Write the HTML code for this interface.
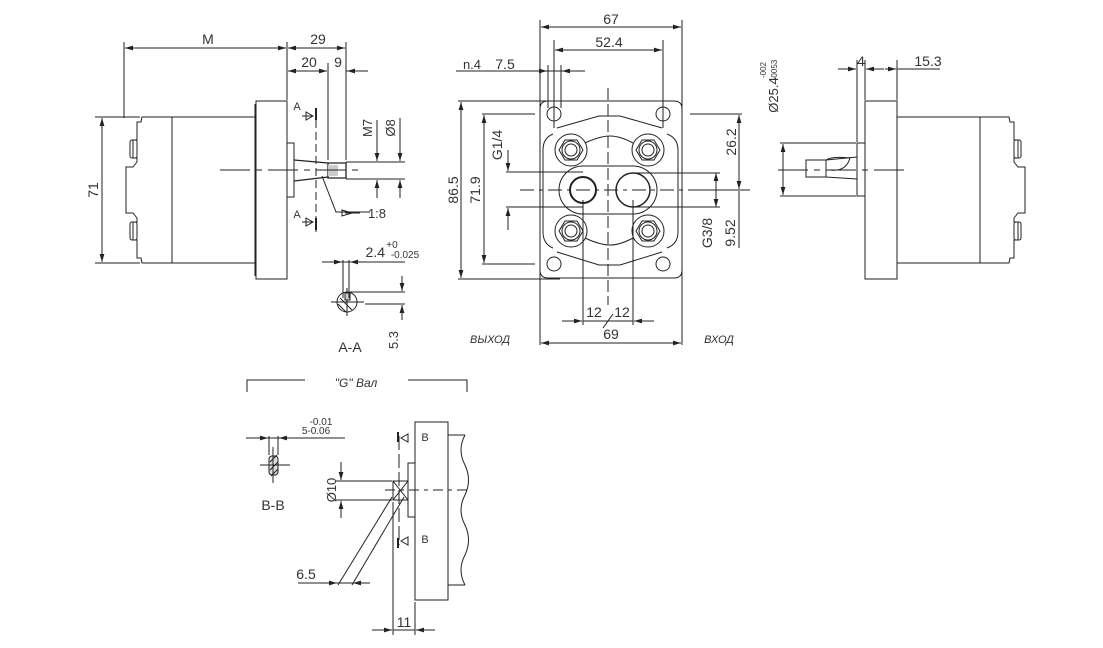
<!DOCTYPE html>
<html><head><meta charset="utf-8"><style>
html,body{margin:0;padding:0;background:#fff;}
svg{display:block}
text{font-family:"Liberation Sans","DejaVu Sans",sans-serif;fill:#333;}
</style></head><body>
<svg width="1103" height="648" viewBox="0 0 1103 648" xmlns="http://www.w3.org/2000/svg">
<defs>
<marker id="a" viewBox="0 0 10 6" refX="10" refY="3" markerWidth="8" markerHeight="5" orient="auto-start-reverse"><path d="M0,0L10,3L0,6z" fill="#222"/></marker>
</defs>
<g fill="none" stroke="#222" stroke-width="1">
<!-- ===== LEFT VIEW ===== -->
<path d="M148,117 L255,117 M148,263 L255,263 M172,117 L172,263"/>
<path d="M148,117 L142,117 L141,122 L137,122 L137,140 L133,140 L133,158 L137,158 L137,162 L133,167 L126,167 L126,213 L133,213 L137,218 L137,222 L133,222 L133,240 L137,240 L137,258 L141,258 L142,263 L148,263"/>
<rect x="130" y="140" width="7" height="18" rx="2"/><rect x="130" y="222" width="7" height="18" rx="2"/>
<path d="M255,104 L255,276 M256,101 L287,101 L287,279 L256,279 Z"/>
<path d="M287,143 L294,143 L294,197 L287,197"/>
<path d="M294,160 L328,163 M294,181 L328,177 M328,163 L346,163 L346,178 L328,178 Z" stroke-width="1.3"/>
<rect x="328" y="165" width="10" height="11" fill="#ccc" stroke="none"/>
<path d="M220,170 L360,170" stroke-dasharray="30 6 6 6"/>
<path d="M316,108 L316,232" stroke-dasharray="8 4"/>
<path d="M316,108 L316,120 M316,218 L316,230" stroke-width="2"/>
<path d="M302,116 L312,116 M302,222 L312,222" />
<path d="M306,112 L313,116 L306,120 Z M306,218 L313,222 L306,226 Z"/>
<path d="M322,176 L336,212 L370,212"/>
<path d="M342,210 L352,213 L342,216 Z M345,213 L360,213"/>
<!-- dims -->
<path d="M124,42 L124,118 M287,42 L287,100 M346,42 L346,160 M328,63 L328,160"/>
<path d="M125,48 L286,48" marker-start="url(#a)" marker-end="url(#a)"/>
<path d="M288,48 L345,48" marker-start="url(#a)" marker-end="url(#a)"/>
<path d="M288,71 L327,71" marker-start="url(#a)" marker-end="url(#a)"/>
<path d="M346,71 L368,71"/><path d="M358,71 L347,71" marker-end="url(#a)"/>
<path d="M95,117 L140,117 M95,263 L140,263"/>
<path d="M102,118 L102,262" marker-start="url(#a)" marker-end="url(#a)"/>
<path d="M346,162 L405,162 M346,179 L405,179"/>
<path d="M377,120 L377,161 M377,180 L377,198" /><path d="M377,150 L377,161" marker-end="url(#a)"/><path d="M377,192 L377,180" marker-end="url(#a)"/>
<path d="M400,118 L400,161 M400,180 L400,198"/><path d="M400,150 L400,161" marker-end="url(#a)"/><path d="M400,192 L400,180" marker-end="url(#a)"/>
<!-- A-A -->
<circle cx="347" cy="302" r="10"/>
<path d="M331,302 L364,302 M347,288 L347,316"/>
<path d="M345,293 L350,293 L350,300 L345,300 Z" fill="#ccc"/>
<path d="M340,298 L352,310 M338,304 L346,312"/>
<path d="M343,260 L343,298 M349,260 L349,298"/>
<path d="M322,262 L405,262"/><path d="M333,262 L342,262" marker-end="url(#a)"/><path d="M360,262 L350,262" marker-end="url(#a)"/>
<path d="M350,292 L405,292 M365,304 L405,304"/>
<path d="M402,276 L402,291" marker-end="url(#a)"/><path d="M402,320 L402,305" marker-end="url(#a)"/>
<!-- ===== FRONT VIEW ===== -->
<path d="M548,101 L674,101 Q682,101 682,109 L682,270 Q682,278 674,278 L548,278 Q540,278 540,270 L540,109 Q540,101 548,101 Z"/>
<path d="M553,134 Q543,138 543,150 L543,232 Q543,244 553,248 M667,134 Q678,138 678,150 L678,232 Q678,244 667,248"/>
<path d="M557,128 L599,116 L620,116 L662,128 M557,252 L599,265 L620,265 L662,252"/>
<path d="M585,143 Q600,136 610,136 Q620,136 633,143 M585,238 Q600,245 610,245 Q620,245 633,238"/>
<path d="M583,166 L633,166 A24,24 0 0 1 633,214 L583,214 A24,24 0 0 1 583,166 Z"/>
<circle cx="554" cy="114" r="7"/><circle cx="663" cy="114" r="7"/><circle cx="554" cy="264" r="7"/><circle cx="663" cy="264" r="7"/>
<g>
<circle cx="571" cy="150" r="16"/><path d="M559,150 L565,140 L577,140 L583,150 L577,160 L565,160 Z"/><circle cx="571" cy="150" r="9"/><circle cx="571" cy="150" r="6"/>
<circle cx="648" cy="150" r="16"/><path d="M636,150 L642,140 L654,140 L660,150 L654,160 L642,160 Z"/><circle cx="648" cy="150" r="9"/><circle cx="648" cy="150" r="6"/>
<circle cx="571" cy="231" r="16"/><path d="M559,231 L565,221 L577,221 L583,231 L577,241 L565,241 Z"/><circle cx="571" cy="231" r="9"/><circle cx="571" cy="231" r="6"/>
<circle cx="648" cy="231" r="16"/><path d="M636,231 L642,221 L654,221 L660,231 L654,241 L642,241 Z"/><circle cx="648" cy="231" r="9"/><circle cx="648" cy="231" r="6"/>
</g>
<circle cx="583" cy="190" r="13" stroke-width="2"/>
<circle cx="633" cy="190" r="17" stroke-width="1.5"/>
<path d="M608,88 L608,305" stroke-dasharray="12 4"/>
<path d="M520,190 L700,190" stroke-dasharray="14 5 4 5"/>
<!-- front dims -->
<path d="M540,20 L540,345 M682,20 L682,345 M554,40 L554,128 M663,40 L663,128 M548,65 L548,108 M561,65 L561,108"/>
<path d="M541,27 L681,27" marker-start="url(#a)" marker-end="url(#a)"/>
<path d="M555,50 L662,50" marker-start="url(#a)" marker-end="url(#a)"/>
<path d="M456,71 L585,71"/>
<path d="M540,71 L547,71" marker-end="url(#a)"/><path d="M570,71 L562,71" marker-end="url(#a)"/>
<path d="M458,101 L560,101 M458,279 L560,279"/>
<path d="M461,102 L461,278" marker-start="url(#a)" marker-end="url(#a)"/>
<path d="M482,114 L535,114 M482,264 L535,264"/>
<path d="M484,115 L484,263" marker-start="url(#a)" marker-end="url(#a)"/>
<path d="M506,172 L583,172 M506,207 L583,207"/>
<path d="M508,150 L508,171" marker-end="url(#a)"/><path d="M508,230 L508,208" marker-end="url(#a)"/>
<path d="M633,173 L720,173 M633,207 L720,207"/>
<path d="M716,173 L716,207" marker-start="url(#a)" marker-end="url(#a)"/>
<path d="M690,114 L742,114 M700,190 L750,190"/>
<path d="M739,115 L739,189" marker-start="url(#a)" marker-end="url(#a)"/>
<path d="M739,191 L739,248"/>
<path d="M583,200 L583,325 M633,200 L633,325"/>
<path d="M562,321 L582,321" marker-end="url(#a)"/><path d="M654,321 L634,321" marker-end="url(#a)"/>
<path d="M583,321 L633,321 M603,328 L613,314"/>
<path d="M541,343 L681,343" marker-start="url(#a)" marker-end="url(#a)"/>
<!-- ===== RIGHT VIEW ===== -->
<path d="M897,117 L1003,117 M897,263 L1003,263 M980,117 L980,263"/>
<path d="M1003,117 L1009,117 L1010,122 L1014,122 L1014,140 L1018,140 L1018,158 L1014,158 L1014,162 L1018,167 L1025,167 L1025,213 L1018,213 L1014,218 L1014,222 L1018,222 L1018,240 L1014,240 L1014,258 L1010,258 L1009,263 L1003,263"/>
<rect x="1014" y="140" width="7" height="18" rx="2"/><rect x="1014" y="222" width="7" height="18" rx="2"/>
<path d="M865,101 L897,101 L897,279 L865,279 Z M897,104 L897,276"/>
<path d="M865,143 L857,143 L857,196 L865,196"/>
<path d="M857,157 L826,160 M857,179 L826,177 M826,160 L806,160 L806,177 L826,177 Z"/>
<path d="M826,160 Q832,156 850,158 Q846,172 830,170"/>
<path d="M778,170 L910,170" stroke-dasharray="30 6 6 6"/>
<path d="M857,60 L857,142 M865,60 L865,100 M897,60 L897,100"/>
<path d="M838,69 L856,69" marker-end="url(#a)"/><path d="M884,69 L866,69" marker-end="url(#a)"/><path d="M885,69 L896,69" marker-end="url(#a)"/>
<path d="M897,69 L940,69"/>
<path d="M780,143 L856,143 M780,196 L856,196"/>
<path d="M783,144 L783,195" marker-start="url(#a)" marker-end="url(#a)"/>
<!-- ===== G SHAFT ===== -->
<path d="M247,392 L247,380 L305,380 M408,380 L467,380 L467,392"/>
<path d="M415,422 L448,422 L448,600 L415,600 Z"/>
<path d="M448,435 L465,435 M448,585 L465,585"/>
<path d="M465,435 Q457,450 465,465 Q472,480 465,495 Q457,510 465,525 Q472,540 465,555 Q457,570 465,585"/>
<path d="M415,463 L408,463 L408,517 L415,517"/>
<path d="M393,481 L408,481 L408,500 L393,500 Z M393,481 L408,500 M408,481 L393,500"/>
<path d="M385,490 L470,490" stroke-dasharray="10 5 4 5"/>
<path d="M399,436 L399,545" stroke-dasharray="14 4"/>
<path d="M398,432 L398,442 M398,538 L398,548" stroke-width="2"/>
<path d="M401,438 L408,434 L408,442 Z M401,541 L408,537 L408,545 Z"/>
<path d="M392,497 L338,585 M404,497 L352,585 M298,583 L370,583"/>
<path d="M330,583 L337,583" marker-end="url(#a)"/><path d="M365,583 L353,583" marker-end="url(#a)"/>
<path d="M335,481 L392,481 M335,500 L392,500"/>
<path d="M341,462 L341,480" marker-end="url(#a)"/><path d="M341,518 L341,501" marker-end="url(#a)"/>
<path d="M393,502 L393,635 M415,602 L415,635"/>
<path d="M372,630 L392,630" marker-end="url(#a)"/><path d="M435,630 L416,630" marker-end="url(#a)"/><path d="M393,630 L415,630"/>
<!-- B-B -->
<rect x="269" y="456" width="9" height="19" rx="3" fill="#ddd"/>
<path d="M260,465 L290,465 M273,447 L273,483 M270,462 L277,455 M270,470 L278,462 M271,476 L278,469"/>
<path d="M269,436 L269,455 M278,436 L278,455 M246,438 L345,438"/>
<path d="M258,438 L268,438" marker-end="url(#a)"/><path d="M288,438 L279,438" marker-end="url(#a)"/>
</g>
<g font-size="14" text-anchor="middle">
<text x="208" y="44">M</text>
<text x="318" y="44">29</text>
<text x="309" y="67">20</text>
<text x="338" y="67">9</text>
<text x="297" y="110" font-size="11">A</text><text x="297" y="218" font-size="11">A</text>
<text x="377" y="218" font-size="13">1:8</text>
<text transform="translate(98,190) rotate(-90)">71</text>
<text transform="translate(372,128) rotate(-90)" font-size="13">M7</text>
<text transform="translate(395,128) rotate(-90)" font-size="13">Ø8</text>
<text x="385" y="257" text-anchor="end">2.4</text>
<text x="392" y="248" font-size="10">+0</text><text x="405" y="258" font-size="10">-0.025</text>
<text transform="translate(398,340) rotate(-90)" font-size="13">5.3</text>
<text x="350" y="352">A-A</text>
<text x="611" y="24">67</text>
<text x="609" y="47">52.4</text>
<text x="472" y="69" font-size="13">n.4</text><text x="505" y="69">7.5</text>
<text transform="translate(458,190) rotate(-90)">86.5</text>
<text transform="translate(480,190) rotate(-90)">71.9</text>
<text transform="translate(502,145) rotate(-90)">G1/4</text>
<text transform="translate(712,233) rotate(-90)">G3/8</text>
<text transform="translate(735,233) rotate(-90)">9.52</text>
<text transform="translate(736,142) rotate(-90)">26.2</text>
<text x="594" y="317">12</text><text x="622" y="317">12</text>
<text x="611" y="339">69</text>
<text x="490" y="343" font-size="11" font-style="italic">ВЫХОД</text>
<text x="719" y="343" font-size="11" font-style="italic">ВХОД</text>
<text transform="translate(778,95) rotate(-90)" font-size="13">Ø25.4</text>
<text transform="translate(766,70) rotate(-90)" font-size="8">-002</text>
<text transform="translate(777,70) rotate(-90)" font-size="8">-0053</text>
<text x="861" y="66">4</text>
<text x="928" y="66">15.3</text>
<text x="356" y="387" font-size="12" font-style="italic">"G" Вал</text>
<text x="321" y="425" font-size="10">-0.01</text>
<text x="316" y="434" font-size="10">5-0.06</text>
<text x="273" y="510">B-B</text>
<text transform="translate(336,490) rotate(-90)" font-size="13">Ø10</text>
<text x="425" y="441" font-size="11">B</text><text x="425" y="543" font-size="11">B</text>
<text x="306" y="579">6.5</text>
<text x="404" y="627">11</text>
</g>
</svg>
</body></html>
